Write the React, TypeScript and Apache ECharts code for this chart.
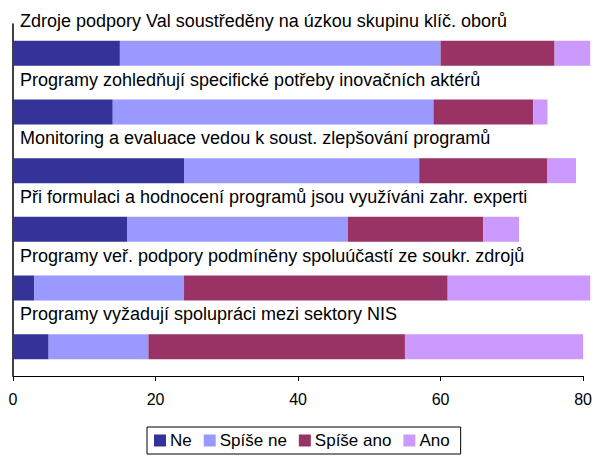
import React, { useEffect, useRef } from "react";
import * as echarts from "echarts";

const categories = [
  "Zdroje podpory Val soustředěny na úzkou skupinu klíč. oborů",
  "Programy zohledňují specifické potřeby inovačních aktérů",
  "Monitoring a evaluace vedou k soust. zlepšování programů",
  "Při formulaci a hodnocení programů jsou využíváni zahr. experti",
  "Programy veř. podpory podmíněny spoluúčastí ze soukr. zdrojů",
  "Programy vyžadují spolupráci mezi sektory NIS",
];
const seriesNames = ["Ne", "Spíše ne", "Spíše ano", "Ano"];
const ne = [15, 14, 24, 16, 3, 5];
const spiseNe = [45, 45, 33, 31, 21, 14];
const spiseAno = [16, 14, 18, 19, 37, 36];
const ano = [5, 2, 4, 5, 20, 25];
const xTicks = { min: 0, max: 80, interval: 20 };
const colors = ["#333399", "#9999FF", "#993366", "#CC99FF"];

export default function App() {
  const ref = useRef<HTMLDivElement>(null);
  useEffect(() => {
    if (!ref.current) return;
    const chart = echarts.init(ref.current, undefined, { renderer: "svg" });
    const font = "'Liberation Sans', Arial, sans-serif";
    const values = [ne, spiseNe, spiseAno, ano];
    chart.setOption({
      animation: false,
      textStyle: { fontFamily: font },
      grid: { left: 13, right: 9, top: 24, bottom: 81, containLabel: false },
      legend: {
        top: 427,
        left: 147,
        data: seriesNames,
        icon: "rect",
        itemWidth: 12,
        itemHeight: 12,
        itemGap: 12,
        borderColor: "#000",
        borderWidth: 1,
        padding: [5, 11, 5, 7],
        textStyle: { fontSize: 17, color: "#000", fontFamily: font, padding: [0, 0, 0, -1] },
      },
      xAxis: {
        type: "value",
        min: xTicks.min,
        max: xTicks.max,
        interval: xTicks.interval,
        splitLine: { show: false },
        axisLine: { show: true, lineStyle: { color: "#000", width: 1 } },
        axisTick: { show: true, length: 5, lineStyle: { color: "#000" } },
        axisLabel: { fontSize: 16, color: "#000", margin: 15, fontFamily: font },
      },
      yAxis: {
        type: "category",
        data: categories,
        inverse: true,
        axisLine: { show: true, lineStyle: { color: "#000", width: 1.5 } },
        axisTick: { show: false },
        axisLabel: { show: false },
      },
      series: seriesNames.map((name, i) => ({
        name,
        type: "bar",
        stack: "total",
        barWidth: 25,
        clip: false,
        data: values[i],
        itemStyle: { color: colors[i] },
        label:
          i === 0
            ? {
                show: true,
                formatter: "{b}",
                position: [7, -20],
                align: "left",
                verticalAlign: "middle",
                fontSize: 18,
                color: "#000",
                fontFamily: font,
              }
            : { show: false },
      })),
    });
    return () => chart.dispose();
  }, []);
  return (
    <div
      ref={ref}
      style={{ position: "absolute", left: 0, top: 0, width: 595, height: 457 }}
    />
  );
}
